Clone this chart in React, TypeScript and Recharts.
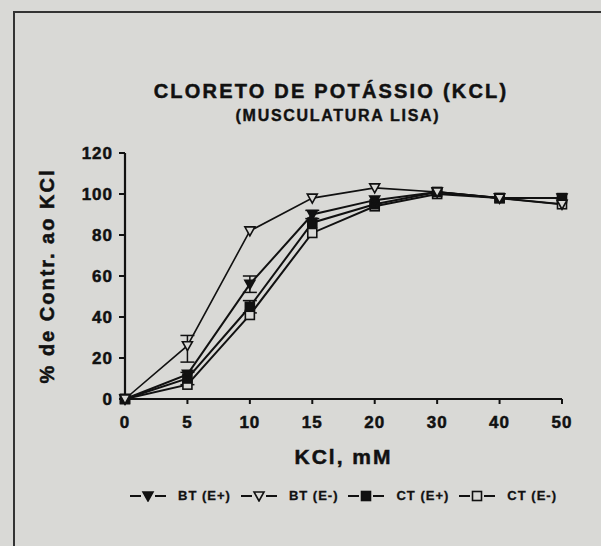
import { ErrorBar, Line, LineChart, XAxis, YAxis } from "recharts"

// KCl concentration (mM) - categorical, equally spaced on the axis
const kcl = ["0", "5", "10", "15", "20", "30", "40", "50"]

// % of contraction to KCl
const btEPlus = [0, 12, 56, 90, 97, 101, 98, 98]
const btEMinus = [0, 26, 82, 98, 103, 101, 98, 95]
const ctEPlus = [0, 10, 45, 86, 95, 101, 98, 98]
const ctEMinus = [0, 7, 41, 81, 94, 100, 98, 95]

// error bars (only where visible in the figure)
const btEPlusErr = [null, null, 4, 2, null, null, null, null]
const btEMinusErr = [null, [8, 5], null, null, null, null, null, null]
const ctEPlusErr = [null, 3, 3, null, null, null, null, null]

const yTicks = [0, 20, 40, 60, 80, 100, 120]

const data = kcl.map((k, i) => ({
	kcl: k,
	btp: btEPlus[i],
	btm: btEMinus[i],
	ctp: ctEPlus[i],
	ctm: ctEMinus[i],
	btpErr: btEPlusErr[i],
	btmErr: btEMinusErr[i],
	ctpErr: ctEPlusErr[i],
}))

const BG = "#d9d9d6"
const INK = "#111"
const font = "'Liberation Sans', Arial, Helvetica, sans-serif"

function TriDown({ cx, cy, filled }: any) {
	if (cx == null || cy == null) return null
	return (
		<path
			d={`M${cx - 5},${cy - 4} L${cx + 5},${cy - 4} L${cx},${cy + 5} Z`}
			fill={filled ? INK : BG}
			stroke={INK}
			strokeWidth={1.6}
		/>
	)
}

function Square({ cx, cy, filled }: any) {
	if (cx == null || cy == null) return null
	return <rect x={cx - 4.5} y={cy - 4.5} width={9} height={9} fill={filled ? INK : BG} stroke={INK} strokeWidth={1.6} />
}

const dotFor = (Shape: any, filled: boolean) => (p: any) => <Shape key={`d-${p.index}`} cx={p.cx} cy={p.cy} filled={filled} />

function LegendSymbol({ kind }: { kind: string }) {
	return (
		<svg width={38} height={12} style={{ display: "block" }}>
			<line x1={1} y1={6} x2={37} y2={6} stroke={INK} strokeWidth={2} />
			<rect x={12} y={0} width={14} height={12} fill={BG} />
			{kind === "tf" && <TriDown cx={19} cy={6} filled />}
			{kind === "to" && <TriDown cx={19} cy={6} filled={false} />}
			{kind === "sf" && <Square cx={19} cy={6} filled />}
			{kind === "so" && <Square cx={19} cy={6} filled={false} />}
		</svg>
	)
}

const legendItems = [
	{ kind: "tf", label: "BT (E+)" },
	{ kind: "to", label: "BT (E-)" },
	{ kind: "sf", label: "CT (E+)" },
	{ kind: "so", label: "CT (E-)" },
]

export default function App() {
	return (
		<div style={{ position: "absolute", left: 0, top: 0, width: 601, height: 546, background: BG, overflow: "hidden", fontFamily: font }}>
			<style>{`
				.recharts-cartesian-axis-tick-value { letter-spacing: 1px; stroke: #111; stroke-width: 0.5px; }
				.recharts-label { letter-spacing: 2px; stroke: #111; stroke-width: 0.5px; }
			`}</style>
			{/* page frame */}
			<div style={{ position: "absolute", left: 13, top: 11, width: 620, height: 600, borderLeft: "2px solid #333", borderTop: "2px solid #333" }} />

			<div style={{ position: "absolute", left: 0, width: 662, top: 80, textAlign: "center", fontWeight: "bold", fontSize: 20, letterSpacing: 2.2, color: INK, lineHeight: "22px", WebkitTextStroke: "0.5px #111" }}>
				CLORETO DE POTÁSSIO (KCL)
			</div>
			<div style={{ position: "absolute", left: 0, width: 676, top: 107, textAlign: "center", fontWeight: "bold", fontSize: 16, letterSpacing: 1.7, color: INK, lineHeight: "18px", WebkitTextStroke: "0.4px #111" }}>
				(MUSCULATURA LISA)
			</div>

			<div style={{ position: "absolute", left: 0, top: 0 }}>
				<LineChart width={601} height={546} data={data} margin={{ top: 153, right: 39, bottom: 117, left: 20 }}>
					<XAxis
						dataKey="kcl"
						height={30}
						axisLine={{ stroke: INK, strokeWidth: 2.2 }}
						tickLine={{ stroke: INK, strokeWidth: 2 }}
						tickSize={5}
						tickMargin={12}
						tick={{ fill: INK, fontSize: 17, fontWeight: "bold", fontFamily: font }}
						label={{ value: "KCl, mM", position: "bottom", offset: 20, fill: INK, fontSize: 21, fontWeight: "bold", fontFamily: font }}
					/>
					<YAxis
						type="number"
						domain={[0, 120]}
						ticks={yTicks}
						width={105}
						axisLine={{ stroke: INK, strokeWidth: 2.2 }}
						tickLine={{ stroke: INK, strokeWidth: 2 }}
						tickSize={6}
						tickMargin={6}
						tick={{ fill: INK, fontSize: 17, fontWeight: "bold", fontFamily: font }}
						label={{ value: "% de Contr. ao KCl", angle: -90, position: "center", dx: -26, fill: INK, fontSize: 20, fontWeight: "bold", fontFamily: font }}
					/>
					<Line dataKey="ctm" stroke={INK} strokeWidth={2} dot={dotFor(Square, false)} isAnimationActive={false} />
					<Line dataKey="ctp" stroke={INK} strokeWidth={2} dot={dotFor(Square, true)} isAnimationActive={false}>
						<ErrorBar dataKey="ctpErr" width={7} stroke={INK} strokeWidth={1.5} />
					</Line>
					<Line dataKey="btp" stroke={INK} strokeWidth={2} dot={dotFor(TriDown, true)} isAnimationActive={false}>
						<ErrorBar dataKey="btpErr" width={7} stroke={INK} strokeWidth={1.5} />
					</Line>
					<Line dataKey="btm" stroke={INK} strokeWidth={1.6} dot={dotFor(TriDown, false)} isAnimationActive={false}>
						<ErrorBar dataKey="btmErr" width={7} stroke={INK} strokeWidth={1.5} />
					</Line>
				</LineChart>
			</div>

			<div style={{ position: "absolute", left: 129, top: 488, display: "flex", alignItems: "center", fontWeight: "bold", fontSize: 13, letterSpacing: 1, color: INK, WebkitTextStroke: "0.3px #111" }}>
				{legendItems.map((it, i) => (
					<div key={it.label} style={{ display: "flex", alignItems: "center", marginLeft: i === 0 ? 0 : 9 }}>
						<LegendSymbol kind={it.kind} />
						<span style={{ marginLeft: 11 }}>{it.label}</span>
					</div>
				))}
			</div>
		</div>
	)
}
